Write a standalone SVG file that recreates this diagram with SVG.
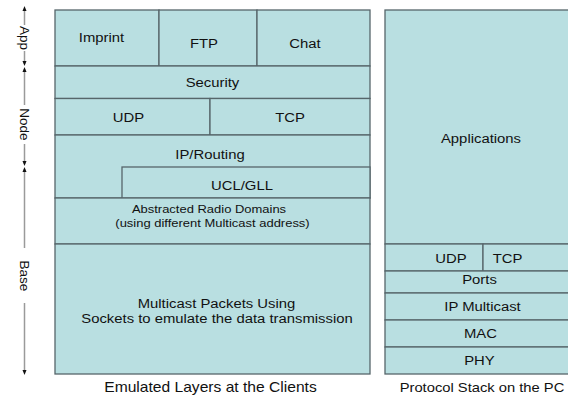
<svg xmlns="http://www.w3.org/2000/svg" width="568" height="399" viewBox="0 0 568 399">
<style>
.c{fill:#B9DFE1;stroke:#56666A;stroke-width:1.3}
.t{font-family:"Liberation Sans",Arial,sans-serif;font-size:13.5px;fill:#111;text-anchor:middle;transform-box:fill-box;transform-origin:center;transform:scaleX(1.1)}
.s{font-size:11.8px}
.cap{font-size:14.2px}
.cap2{font-size:13.4px}
.ax{font-family:"Liberation Sans",Arial,sans-serif;font-size:13.5px;fill:#111;text-anchor:middle}
.al{stroke:#9a9a9a;stroke-width:1.5;fill:none}
.ah{fill:#111}
</style>
<rect width="568" height="399" fill="#fff"/>
<g id="axis">
<line class="al" x1="24.5" y1="9" x2="24.5" y2="25"/>
<line class="al" x1="24.5" y1="51" x2="24.5" y2="64"/>
<polygon class="ah" points="24.5,6 22.5,11 26.5,11"/>
<polygon class="ah" points="24.5,66 22.5,61 26.5,61"/>
<text class="ax" transform="translate(19.5,38) rotate(90)">App</text>
<line class="al" x1="24.5" y1="69" x2="24.5" y2="105"/>
<line class="al" x1="24.5" y1="144" x2="24.5" y2="164"/>
<polygon class="ah" points="24.5,67 22.5,72 26.5,72"/>
<polygon class="ah" points="24.5,166 22.5,161 26.5,161"/>
<text class="ax" transform="translate(19.5,124.5) rotate(90)">Node</text>
<line class="al" x1="24.5" y1="169" x2="24.5" y2="248"/>
<line class="al" x1="24.5" y1="303" x2="24.5" y2="372"/>
<polygon class="ah" points="24.5,167 22.5,172 26.5,172"/>
<polygon class="ah" points="24.5,375 22.5,370 26.5,370"/>
<text class="ax" transform="translate(19.5,276) rotate(90)">Base</text>
</g>
<g id="imprint"><rect class="c" x="55" y="10" width="104" height="56"/><text class="t" x="101.5" y="42">Imprint</text></g>
<g id="ftp"><rect class="c" x="159" y="10" width="98" height="56"/><text class="t" x="204" y="48">FTP</text></g>
<g id="chat"><rect class="c" x="257" y="10" width="113" height="56"/><text class="t" x="305" y="48">Chat</text></g>
<g id="security"><rect class="c" x="55" y="66" width="315" height="32.5"/><text class="t" x="212.5" y="87">Security</text></g>
<g id="udp-left"><rect class="c" x="55" y="98.5" width="155" height="36.5"/><text class="t" x="128.5" y="122">UDP</text></g>
<g id="tcp-left"><rect class="c" x="210" y="98.5" width="160" height="36.5"/><text class="t" x="290" y="122">TCP</text></g>
<g id="ip-routing"><rect class="c" x="55" y="135" width="315" height="63"/><text class="t" x="210" y="159.5">IP/Routing</text></g>
<g id="ucl-gll"><rect class="c" x="122" y="167" width="248" height="31"/><text class="t" x="242" y="190">UCL/GLL</text></g>
<g id="radio-domains"><rect class="c" x="55" y="198" width="315" height="46"/><text class="t s" x="209" y="213.5">Abstracted Radio Domains</text><text class="t s" x="212.5" y="227">(using different Multicast address)</text></g>
<g id="multicast-packets"><rect class="c" x="55" y="244" width="315" height="130"/><text class="t" x="216.5" y="308.5">Multicast Packets Using</text><text class="t" x="217" y="323.5">Sockets to emulate the data transmission</text></g>
<g id="applications"><rect class="c" x="385" y="10" width="195" height="234"/><text class="t" x="481" y="143">Applications</text></g>
<g id="udp-right"><rect class="c" x="385" y="244" width="98" height="27"/><text class="t" x="451" y="263.5">UDP</text></g>
<g id="tcp-right"><rect class="c" x="483" y="244" width="97" height="27"/><text class="t" x="507.5" y="263.5">TCP</text></g>
<g id="ports"><rect class="c" x="385" y="271" width="195" height="22"/><text class="t" x="479.5" y="284.5">Ports</text></g>
<g id="ip-multicast"><rect class="c" x="385" y="293" width="195" height="27"/><text class="t" x="482.5" y="311.5">IP Multicast</text></g>
<g id="mac"><rect class="c" x="385" y="320" width="195" height="27"/><text class="t" x="480.5" y="338.5">MAC</text></g>
<g id="phy"><rect class="c" x="385" y="347" width="195" height="27"/><text class="t" x="479.5" y="365">PHY</text></g>
<g id="captions">
<text class="t cap" x="210.5" y="392">Emulated Layers at the Clients</text>
<text class="t cap2" x="482" y="392">Protocol Stack on the PC</text>
</g>
<g id="connectors"></g>
</svg>
